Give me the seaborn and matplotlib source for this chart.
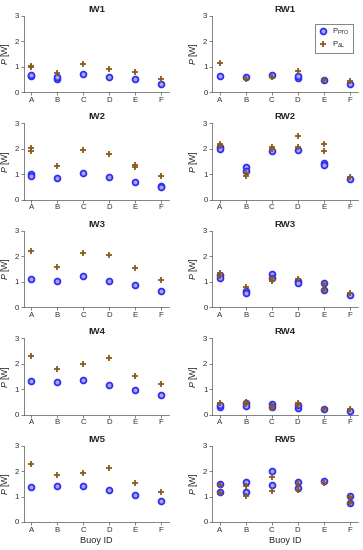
import numpy as np
import pandas as pd
import matplotlib
matplotlib.use("Agg")
import matplotlib.pyplot as plt
import seaborn as sns
from matplotlib.lines import Line2D

BUOYS = ["A", "B", "C", "D", "E", "F"]
PANELS = ["IW1", "RW1", "IW2", "RW2", "IW3", "RW3", "IW4", "RW4", "IW5", "RW5"]

# values per buoy (lists of repeated measurements), in W
IW1_PTO = [[0.63, 0.68], [0.53, 0.58], [0.72], [0.60], [0.50], [0.33]]
IW1_DL = [[1.00, 1.03], [0.74], [1.12], [0.90], [0.80], [0.53]]
RW1_PTO = [[0.63], [0.60], [0.66], [0.57, 0.62], [0.48], [0.33]]
RW1_DL = [[1.13], [0.52], [0.61], [0.85], [0.48], [0.44]]
IW2_PTO = [[1.00, 0.94], [0.85], [1.04], [0.89], [0.70], [0.53, 0.48]]
IW2_DL = [[1.90, 2.05], [1.33], [1.94], [1.79], [1.30, 1.35], [0.92]]
RW2_PTO = [[2.06, 2.00], [1.27, 1.14], [1.90], [1.97], [1.46, 1.35], [0.81]]
RW2_DL = [[2.19, 2.10], [1.06, 0.93], [2.06, 1.99], [2.52, 2.06], [2.19, 1.93], [0.88]]
IW3_PTO = [[1.12], [1.04], [1.24], [1.02], [0.87], [0.64]]
IW3_DL = [[2.22], [1.57], [2.11], [2.03], [1.53], [1.06]]
RW3_PTO = [[1.25, 1.13], [0.64, 0.57], [1.32, 1.13], [1.03, 0.94], [0.94, 0.68], [0.48]]
RW3_DL = [[1.33, 1.23], [0.77], [1.04, 1.15], [1.11], [0.91, 0.68], [0.57]]
IW4_PTO = [[1.32], [1.26], [1.36], [1.17], [0.97], [0.78]]
IW4_DL = [[2.30], [1.80], [1.99], [2.24], [1.51], [1.20]]
RW4_PTO = [[0.30, 0.37], [0.47, 0.33], [0.41, 0.30], [0.26, 0.39], [0.22], [0.13]]
RW4_DL = [[0.46], [0.42, 0.51], [0.24, 0.34], [0.46, 0.37], [0.20], [0.20]]
IW5_PTO = [[1.37], [1.42], [1.43], [1.24], [1.06], [0.83]]
IW5_DL = [[2.27], [1.83], [1.92], [2.11], [1.53], [1.19]]
RW5_PTO = [[1.50, 1.16], [1.57, 1.16], [2.02, 1.46], [1.57, 1.32], [1.62], [1.02, 0.74]]
RW5_DL = [[1.45, 1.15], [1.40, 1.02], [1.77, 1.23], [1.51, 1.27], [1.55], [1.00, 0.73]]

DATA = {
    "IW1": (IW1_PTO, IW1_DL), "RW1": (RW1_PTO, RW1_DL),
    "IW2": (IW2_PTO, IW2_DL), "RW2": (RW2_PTO, RW2_DL),
    "IW3": (IW3_PTO, IW3_DL), "RW3": (RW3_PTO, RW3_DL),
    "IW4": (IW4_PTO, IW4_DL), "RW4": (RW4_PTO, RW4_DL),
    "IW5": (IW5_PTO, IW5_DL), "RW5": (RW5_PTO, RW5_DL),
}

rows = []
for name, (pto, dl) in DATA.items():
    for kind, series in (("PTO", pto), ("DL", dl)):
        for b, vals in zip(BUOYS, series):
            for v in vals:
                rows.append({"panel": name, "kind": kind, "buoy": b, "P": v})
df = pd.DataFrame(rows)

sns.set_theme(style="ticks")
plt.rcParams["font.family"] = ["Liberation Sans", "DejaVu Sans"]
plt.rcParams["mathtext.fontset"] = "custom"
plt.rcParams["mathtext.rm"] = "Liberation Sans"
plt.rcParams["mathtext.it"] = "Liberation Sans:italic"

fig, axes = plt.subplots(5, 2, figsize=(3.63, 5.5), dpi=100)
fig.subplots_adjust(left=0.066, right=0.986, bottom=0.051, top=0.971,
                    wspace=0.295, hspace=0.41)

PTO_EDGE = "#3030f5"
PTO_FACE = "#aaa6ee"
DL_COL = "#8a5a1e"
AX_COL = "#505050"

for i, name in enumerate(PANELS):
    ax = axes[i // 2, i % 2]
    sub = df[df.panel == name]
    sns.stripplot(data=sub[sub.kind == "PTO"], x="buoy", y="P", order=BUOYS,
                  jitter=False, ax=ax, marker="o", size=4.2,
                  color=PTO_FACE, edgecolor=PTO_EDGE, linewidth=1.3, zorder=3)
    sns.stripplot(data=sub[sub.kind == "DL"], x="buoy", y="P", order=BUOYS,
                  jitter=False, ax=ax, marker="+", size=4.6,
                  color=DL_COL, linewidth=1.3, zorder=4)
    ax.set_xlim(-0.28, 5.32)
    ax.set_ylim(0, 3)
    ax.set_yticks([0, 1, 2, 3])
    ax.set_title(name, fontsize=6.8, fontweight="bold", pad=3)
    ax.set_ylabel(r"$P$ [W]", fontsize=6.3, labelpad=2, color="#262626")
    if i // 2 == 4:
        ax.set_xlabel("Buoy ID", fontsize=6.6, labelpad=1.5, color="#262626")
    else:
        ax.set_xlabel("")
    ax.tick_params(labelsize=5.7, length=2, width=0.5, pad=1.5,
                   colors=AX_COL, labelcolor="#333333")
    for s in ("top", "right"):
        ax.spines[s].set_visible(False)
    for s in ("left", "bottom"):
        ax.spines[s].set_linewidth(0.5)
        ax.spines[s].set_color(AX_COL)

handles = [
    Line2D([], [], ls="", marker="o", ms=4.2, mfc=PTO_FACE, mec=PTO_EDGE, mew=1.3,
           label=r"P$_{\mathrm{PTO}}$"),
    Line2D([], [], ls="", marker="+", ms=4.6, color=DL_COL, mew=1.3,
           label=r"P$_{\Delta\mathrm{L}}$"),
]
leg = axes[0, 1].legend(handles=handles, loc="upper right", fontsize=5.5,
                        frameon=True, fancybox=False, edgecolor="#262626",
                        borderpad=0.4, handletextpad=0.6, labelspacing=0.4,
                        handlelength=1.2, bbox_to_anchor=(0.99, 0.95))
leg.get_frame().set_linewidth(0.5)

fig.savefig("out.png", dpi=100)
